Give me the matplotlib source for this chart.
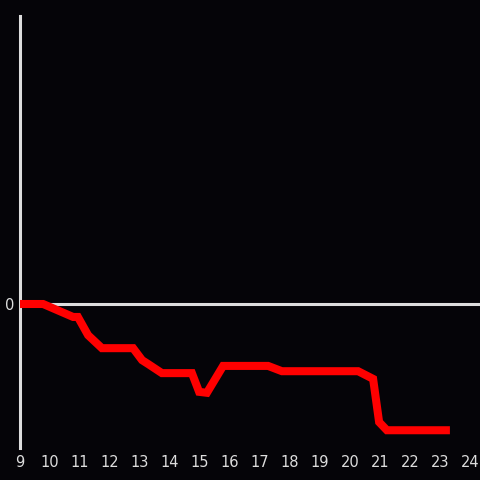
import matplotlib
matplotlib.use('Agg')
import matplotlib.pyplot as plt

hours = [9.0, 9.77, 10.77, 10.93, 11.27, 11.73, 12.77, 13.07, 13.27, 13.73,
         14.73, 14.97, 15.23, 15.77, 17.27, 17.73, 20.27, 20.77, 20.97, 21.23, 23.33]
values = [0.0, 0.0, -2.7, -2.7, -6.5, -9.2, -9.2, -11.7, -12.5, -14.4,
          -14.4, -18.3, -18.5, -12.9, -12.9, -14.0, -14.0, -15.6, -24.6, -26.3, -26.3]
xticks = list(range(9, 25))

bg = '#050408'
fg = '#dddddd'

fig = plt.figure(figsize=(4.8, 4.8), dpi=100, facecolor=bg)
ax = fig.add_axes([20 / 480, 32 / 480, 460 / 480, 432 / 480], facecolor=bg)

ax.axhline(0, color=fg, linewidth=2.2, zorder=1)
ax.plot(hours, values, color='#ff0000', linewidth=5.8, solid_joinstyle='miter',
        solid_capstyle='butt', zorder=3, clip_on=False)

ax.set_xlim(9, 24.333)
ax.set_ylim(-30, 60)
ax.set_xticks(xticks)
ax.set_yticks([0])
ax.tick_params(colors=fg, length=0, labelsize=10.5, pad=5)
ax.tick_params(axis='y', pad=4)

for s in ['top', 'right', 'bottom']:
    ax.spines[s].set_visible(False)
ax.spines['left'].set_color(fg)
ax.spines['left'].set_linewidth(2.2)
ax.spines['left'].set_zorder(2)

fig.savefig('out.png', dpi=100, facecolor=bg)
